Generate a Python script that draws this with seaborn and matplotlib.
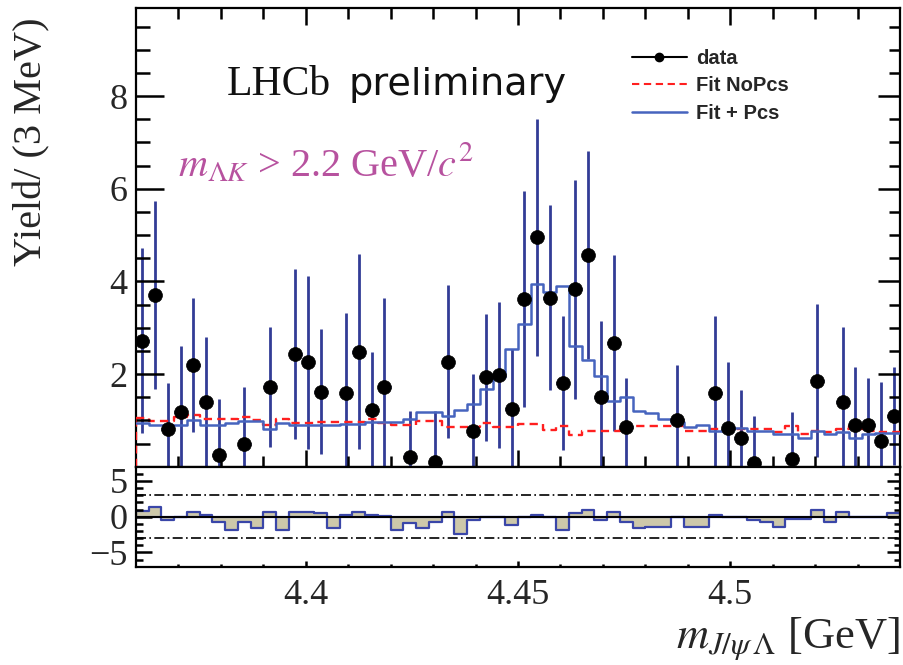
import numpy as np
import pandas as pd
import matplotlib
matplotlib.use("Agg")
import matplotlib.pyplot as plt
from matplotlib.lines import Line2D
from matplotlib.ticker import MultipleLocator, FixedLocator
import seaborn as sns

# ---- binning: 3 MeV bins across the J/psi Lambda mass window ----
x_lo, x_hi = 4.36, 4.54
n_bins = 60
edges = np.linspace(x_lo, x_hi, n_bins + 1)
centers = 0.5 * (edges[:-1] + edges[1:])
half_bin = 0.5 * (edges[1] - edges[0])

nan = np.nan
# sWeighted yield per bin (empty / negative bins are not drawn)
yield_data = [2.72, 3.70, 0.81, 1.19, 2.20, 1.40, 0.25, nan, 0.49, nan,
              1.72, nan, 2.43, 2.25, 1.62, nan, 1.60, 2.48, 1.23, 1.73,
              nan, 0.20, nan, 0.11, 2.27, nan, 0.78, 1.93, 1.98, 1.24,
              3.61, 4.95, 3.65, 1.80, 3.83, 4.57, 1.50, 2.66, 0.85, nan,
              nan, nan, 1.01, nan, nan, 1.60, 0.83, 0.61, 0.09, nan,
              nan, 0.17, nan, 1.86, nan, 1.39, 0.89, 0.89, 0.56, 1.10]
yield_err = [2.00, 2.03, 1.00, 1.42, 1.45, 1.41, 1.21, nan, 1.22, nan,
             1.30, nan, 1.83, 1.87, 1.35, nan, 1.71, 2.10, 1.24, 1.92,
             nan, 1.00, nan, 1.10, 1.65, nan, 1.22, 1.37, 1.57, 1.30,
             2.33, 2.56, 2.00, 1.45, 2.36, 2.25, 1.65, 1.90, 1.06, nan,
             nan, nan, 1.19, nan, nan, 1.66, 1.42, 1.04, 1.01, nan,
             nan, 1.00, nan, 1.65, nan, 1.62, 1.27, 1.02, 1.26, 1.06]

# fit projections per bin
fit_nopcs = [1.05, 0.99, 0.99, 1.08, 1.12, 1.03, 1.03, 1.03, 1.08, 1.01,
             0.91, 1.03, 0.94, 0.94, 0.96, 0.96, 0.96, 0.96, 1.03, 0.94,
             0.89, 0.89, 0.99, 0.99, 0.85, 0.85, 0.85, 0.94, 0.86, 0.86,
             0.92, 0.92, 0.79, 0.88, 0.69, 0.78, 0.78, 0.78, 0.88, 0.88,
             0.88, 0.88, 0.88, 0.78, 0.78, 0.81, 0.81, 0.81, 0.81, 0.81,
             0.74, 0.88, 0.71, 0.78, 0.74, 0.81, 0.88, 0.78, 0.74, 0.74]
fit_pcs = [0.95, 0.89, 0.89, 0.90, 1.01, 0.89, 0.89, 0.94, 0.99, 0.99,
           0.81, 0.94, 0.89, 0.89, 0.89, 0.89, 0.92, 0.92, 0.96, 0.96,
           0.96, 1.03, 1.17, 1.17, 1.10, 1.22, 1.35, 1.68, 1.93, 2.54,
           3.08, 3.94, 3.76, 3.89, 2.60, 2.31, 1.96, 1.42, 1.50, 1.21,
           1.16, 1.04, 0.97, 0.85, 0.90, 0.78, 0.81, 0.83, 0.78, 0.78,
           0.71, 0.71, 0.63, 0.76, 0.71, 0.74, 0.63, 0.71, 0.73, 0.73]

# pulls (data - fit) / error
pulls = [0.8, 1.4, -0.4, 0.0, 0.7, 0.2, -0.7, -1.9, -0.7, -1.6,
         0.7, -1.9, 0.7, 0.7, 0.5, -1.6, 0.2, 0.7, 0.2, 0.1,
         -1.9, -0.9, -1.6, -0.8, 0.7, -2.4, -0.5, 0.0, 0.0, -1.2,
         0.0, 0.2, 0.0, -1.8, 0.5, 0.9, -0.4, 0.7, -0.7, -1.6,
         -1.4, -1.4, 0.0, -1.4, -1.4, 0.3, 0.0, -0.1, -0.5, -0.8,
         -1.4, -0.3, -0.3, 1.0, -0.8, 0.6, 0.0, 0.0, -0.1, 0.5]
pull_band = 3.0

x_major = [4.40, 4.45, 4.50]
x_major_labels = ["4.4", "4.45", "4.5"]
y_major_top = [2, 4, 6, 8]
y_major_pull = [-5, 0, 5]
pull_labels = ["\u22125", "0", "5"]

bins_df = pd.DataFrame({
    "mass": centers,
    "data": yield_data,
    "err": yield_err,
    "nopcs": fit_nopcs,
    "pcs": fit_pcs,
    "pull": pulls,
})

# ---- style ----
sns.set_theme(style="ticks")
plt.rcParams["font.family"] = ["Liberation Serif", "DejaVu Serif"]
plt.rcParams["mathtext.fontset"] = "stix"
plt.rcParams["axes.unicode_minus"] = True
plt.rcParams["axes.axisbelow"] = False

err_col = "#323c96"
pcs_col = "#4664be"
nopcs_col = "#ff1f1f"
pull_fill = "#cdc8aa"
pull_edge = "#3a46a8"
cut_col = "#b7529f"
red_dash = (0, (3.5, 2.2))

W, H = 904, 665
fig = plt.figure(figsize=(W / 100, H / 100), dpi=100)


def frame(left, top, right, bottom):
    return [left / W, 1 - bottom / H, (right - left) / W, (bottom - top) / H]


ax1 = fig.add_axes(frame(136, 8, 900, 466.7))
ax2 = fig.add_axes(frame(136, 466.7, 900, 566.7))


def style_axes(ax, label_x):
    ax.tick_params(axis="both", which="both", length=0, color="black",
                   labelbottom=label_x, labelleft=True, labelsize=26)
    ax.tick_params(axis="x", which="major", pad=9)
    ax.tick_params(axis="y", which="major", pad=6)
    for sp in ax.spines.values():
        sp.set_linewidth(1.6)
        sp.set_color("black")


def inward_ticks(ax, x_len, y_len, top):
    """ROOT-style inward tick marks on the frame, placed at the locator
    positions; lengths are given in pixels."""
    bbox = ax.get_window_extent()
    kw = dict(colors="black", linewidths=1.8, clip_on=False, zorder=6)
    xlo, xhi = ax.get_xlim()
    ylo, yhi = ax.get_ylim()
    xt = ax.get_xaxis_transform()
    yt = ax.get_yaxis_transform()
    for locs, n in ((ax.xaxis.get_majorticklocs(), x_len[0]),
                    (ax.xaxis.get_minorticklocs(), x_len[1])):
        locs = [v for v in locs if xlo < v < xhi]
        f = n / bbox.height
        ax.vlines(locs, 0, f, transform=xt, **kw)
        if top:
            ax.vlines(locs, 1 - f, 1, transform=xt, **kw)
    for locs, n in ((ax.yaxis.get_majorticklocs(), y_len[0]),
                    (ax.yaxis.get_minorticklocs(), y_len[1])):
        locs = [v for v in locs if ylo < v < yhi]
        f = n / bbox.width
        ax.hlines(locs, 0, f, transform=yt, **kw)
        ax.hlines(locs, 1 - f * 0.8, 1, transform=yt, **kw)


# ---- upper panel: fits and data ----
sns.histplot(data=bins_df, x="mass", weights="nopcs", bins=list(edges),
             element="step", fill=False, color=nopcs_col, linewidth=1.7,
             linestyle=red_dash, ax=ax1, zorder=3)
ax1.vlines(edges[0], 0, fit_nopcs[0], color=nopcs_col, lw=1.7,
           linestyles=[red_dash], zorder=3)
sns.histplot(data=bins_df, x="mass", weights="pcs", bins=list(edges),
             element="step", fill=False, color=pcs_col, linewidth=1.8,
             ax=ax1, zorder=3)

ax1.errorbar(bins_df["mass"], bins_df["data"], yerr=bins_df["err"],
             xerr=half_bin, fmt="none", ecolor=err_col, elinewidth=2.0,
             capsize=0, zorder=2)
sns.scatterplot(data=bins_df, x="mass", y="data", color="black", s=100,
                edgecolor="black", linewidth=0.5, ax=ax1, zorder=5,
                legend=False)

ax1.set_xlim(x_lo, x_hi)
ax1.set_ylim(0, 9.9)
ax1.set_xlabel("")
ax1.set_ylabel("")
ax1.xaxis.set_major_locator(FixedLocator(x_major))
ax1.xaxis.set_minor_locator(MultipleLocator(0.01))
ax1.yaxis.set_major_locator(FixedLocator(y_major_top))
ax1.yaxis.set_minor_locator(MultipleLocator(0.5))
style_axes(ax1, False)
inward_ticks(ax1, (17, 11), (28, 14), True)

ax1.text((227 - 136) / 764, (466.7 - 95) / 458.7, "LHCb",
         transform=ax1.transAxes, fontsize=30, ha="left", va="baseline",
         family=["Liberation Serif"], color="#111111")
ax1.text((348 - 136) / 764, (466.7 - 95) / 458.7, "preliminary",
         transform=ax1.transAxes, fontsize=27.5, ha="left", va="baseline",
         family=["DejaVu Sans"], color="#111111")
ax1.text((178 - 136) / 764, (466.7 - 177) / 458.7,
         r"$m_{\mathit{\Lambda K}}$ > 2.2 GeV/$c^{2}$",
         transform=ax1.transAxes, fontsize=29, ha="left", va="baseline",
         color=cut_col)

handles = [
    Line2D([], [], color="black", lw=1.5, marker="o", markersize=6),
    Line2D([], [], color=nopcs_col, lw=1.5, linestyle=red_dash),
    Line2D([], [], color=pcs_col, lw=1.8),
]
ax1.legend(handles, ["data", "Fit NoPcs", "Fit + Pcs"], loc="upper left",
           bbox_to_anchor=((631.7 - 136) / 764, 0.911), frameon=False,
           borderpad=0, borderaxespad=0, handlelength=2.75,
           handletextpad=0.45, labelspacing=0.42,
           prop={"family": "Liberation Sans", "weight": "bold", "size": 14.5})

# ---- lower panel: pulls ----
sns.histplot(data=bins_df, x="mass", weights="pull", bins=list(edges),
             element="step", fill=True, color=pull_fill,
             edgecolor=pull_edge, linewidth=1.6, alpha=1, ax=ax2, zorder=2)
ax2.axhline(0, color="black", lw=1.4, zorder=3)
for lvl in (pull_band, -pull_band):
    ax2.axhline(lvl, color="black", lw=1.2, linestyle=(0, (6, 2, 1, 2)),
                zorder=3)

ax2.set_xlim(x_lo, x_hi)
ax2.set_ylim(-7, 7)
ax2.set_ylabel("")
ax2.set_xlabel("")
ax2.xaxis.set_major_locator(FixedLocator(x_major))
ax2.set_xticklabels(x_major_labels)
ax2.xaxis.set_minor_locator(MultipleLocator(0.01))
ax2.yaxis.set_major_locator(FixedLocator(y_major_pull))
ax2.set_yticklabels(pull_labels)
ax2.yaxis.set_minor_locator(MultipleLocator(1))
style_axes(ax2, True)
inward_ticks(ax2, (6, 3), (16, 7), False)

# ---- axis titles ----
fig.text(32 / W, 1 - 17 / H, "Yield/ (3 MeV)", rotation=90, ha="center",
         va="top", fontsize=29)
fig.text(900 / W, 1 - 648 / H, r"$m_{J/\psi\,\mathit{\Lambda}}$ [GeV]",
         ha="right", va="baseline", fontsize=32)

fig.savefig("out.png", dpi=100)
